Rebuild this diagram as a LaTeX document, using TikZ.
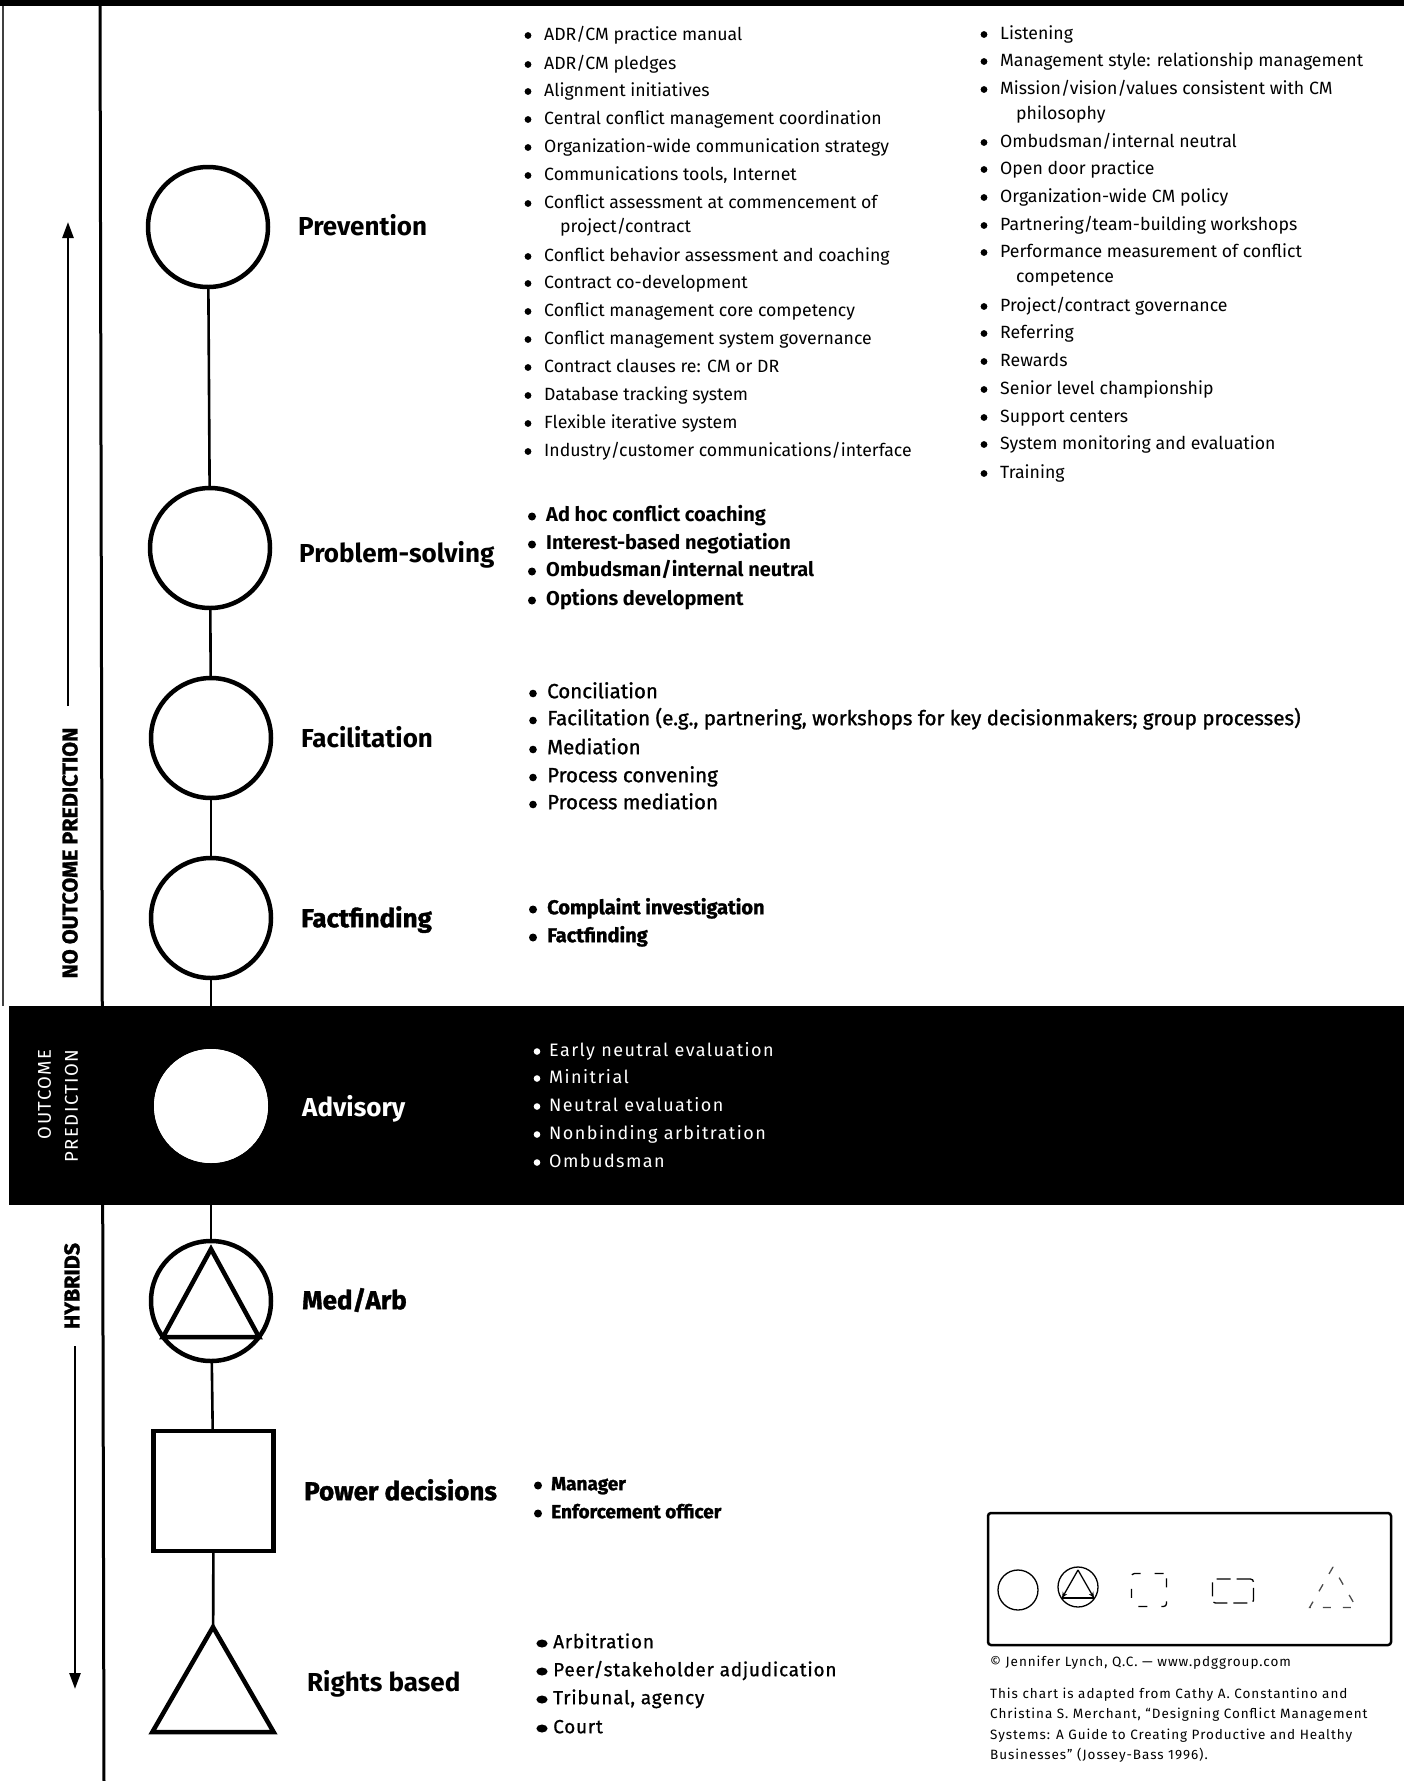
\documentclass[tikz,border=0pt]{standalone}
\usepackage{fontspec}
\setmainfont{Fira Sans}
\newfontfamily\medfont[FakeBold=1.2]{Fira Sans}
\newfontfamily\heavyfont[FakeBold=1.3]{Fira Sans}
\newfontfamily\widefont[LetterSpace=8]{Fira Sans}
\newfontfamily\trackfont[LetterSpace=4,FakeBold=0.8]{Fira Sans}
\newfontfamily\notefont[LetterSpace=7]{Fira Sans}
\usetikzlibrary{shapes.geometric,arrows.meta,calc}

\tikzset{
  outline/.style={draw, line width=4.5pt, inner sep=0pt, outer sep=0pt},
  stage/.style={circle, outline, minimum size=120pt},
  conn/.style={line width=2.6pt},
  txt/.style={anchor=west, inner sep=0pt, text height=1.2em, text depth=0.16em},
  lbl/.style={txt, font=\fontsize{26}{30}\selectfont\bfseries},
  hlbl/.style={txt, font=\fontsize{26}{30}\heavyfont\bfseries},
  lA/.style={txt, font=\fontsize{17.7}{20}\selectfont},
  lB/.style={txt, font=\fontsize{20}{24}\selectfont\bfseries},
  lBh/.style={txt, font=\fontsize{20}{24}\heavyfont\bfseries},
  lC/.style={txt, font=\fontsize{20.5}{24}\medfont},
  lD/.style={txt, text=white, font=\fontsize{18}{22}\widefont},
  lE/.style={txt, font=\fontsize{19}{23}\heavyfont\bfseries},
  lF/.style={txt, font=\fontsize{19}{23}\trackfont},
  % bullet dots of each list
  lAdot/.style={radius=3.4pt, yshift=-0.5pt},
  lBdot/.style={radius=4pt, yshift=-0.5pt},
  lBhdot/.style={radius=4pt, yshift=-0.5pt},
  lCdot/.style={radius=3.8pt, yshift=-0.5pt},
  lDdot/.style={white, radius=3.3pt, yshift=-0.5pt},
  lEdot/.style={radius=4pt, yshift=-0.5pt},
  lFdot/.style={x radius=5.6pt, y radius=4pt, yshift=-0.5pt},
  side/.style={rotate=90, inner sep=0pt, font=\fontsize{21.5}{24}\heavyfont\bfseries},
  foot/.style={txt, font=\fontsize{13.5}{16}\notefont},
  arr/.style={line width=2.6pt, -{Triangle[length=16pt,width=11pt]}},
  mini/.style={draw, line width=1.3pt, inner sep=0pt, outer sep=0pt}
}

% one bulleted entry: style, name, bullet x, text x, y, text
\newcommand\bitem[6]{%
  \node[#1] (#2) at (#4,#5) {#6};
  \fill[#1dot] (#3,#5) circle;}

\begin{document}
\begin{tikzpicture}[x=1pt,y=-1pt]
\useasboundingbox (0,0) rectangle (1404,1781);

% frame rules
\fill (0,0) rectangle (1404,6);
\draw[line width=1.2pt, black!75] (3,6) -- (3,1006);
\draw[line width=3pt] (100,0) -- (104,1781);

% outcome-prediction band
\fill (9,1006) rectangle (1404,1205);

% side captions and arrows
\node[side] (nop) at (70,853) {NO OUTCOME PREDICTION};
\coordinate (upS) at (68,706);
\coordinate (upT) at (68,222);
\draw[arr] (upS) -- (upT);
\node[rotate=90, inner sep=0pt, text=white, align=right,
      font=\fontsize{18.5}{27}\widefont] (op) at (58,1106) {OUTCOME\\PREDICTION};
\node[side] (hyb) at (72,1286) {HYBRIDS};
\coordinate (dnS) at (75,1346);
\coordinate (dnT) at (75,1689);
\draw[arr] (dnS) -- (dnT);

% process shapes
\node[stage] (pv) at (208,227) {};
\node[stage] (ps) at (210,548) {};
\node[stage] (fa) at (211,738) {};
\node[stage] (ff) at (211,918) {};
\node[circle, fill=white, inner sep=0pt, minimum size=114pt] (adv) at (211,1106) {};
\node[stage] (ma) at (211,1301) {};
\node[rectangle, outline, minimum width=120pt, minimum height=120pt] (pd) at (213.5,1491) {};
\node[regular polygon, regular polygon sides=3, outline, minimum size=140pt] (rb) at (213,1697) {};

% triangle inside the med/arb circle
\draw[line width=4.5pt, line join=miter]
  ($(ma)+(0,-52)$) -- ($(ma)+(-48,36)$) -- ($(ma)+(48,36)$) -- cycle;

% connectors
\draw[conn] (pv) -- (ps);
\draw[conn] (ps) -- (fa);
\draw[conn] (fa) -- (ff);
\draw[conn] (ff) -- (adv);
\draw[conn] (adv) -- (ma);
\draw[conn] (ma) -- (pd);
\draw[conn] (pd) -- (rb);
\node[circle, fill=white, inner sep=0pt, minimum size=114pt] (advtop) at (adv) {};

% stage labels
\node[lbl]  (Lpv) at (298,230) {Prevention};
\node[lbl]  (Lps) at (299,557) {Problem-solving};
\node[lbl]  (Lfa) at (301,742) {Facilitation};
\node[hlbl] (Lff) at (301,922) {Factfinding};
\node[lbl, text=white] (Lad) at (302,1111) {Advisory};
\node[hlbl] (Lma) at (302,1304) {Med/Arb};
\node[hlbl] (Lpd) at (304,1495) {Power decisions};
\node[lbl]  (Lrb) at (307,1686) {Rights based};

% prevention, first column
\bitem{lA}{pa1}{528}{544}{35}{ADR/CM practice manual}
\bitem{lA}{pa2}{528}{544}{64}{ADR/CM pledges}
\bitem{lA}{pa3}{528}{544}{91}{Alignment initiatives}
\bitem{lA}{pa4}{528}{544}{119}{Central conflict management coordination}
\bitem{lA}{pa5}{528}{544}{147}{Organization-wide communication strategy}
\bitem{lA}{pa6}{528}{544}{175}{Communications tools, Internet}
\bitem{lA}{pa7}{528}{544}{203}{Conflict assessment at commencement of}
\node[lA] (pa7b) at (560,227) {project/contract};
\bitem{lA}{pa8}{528}{544}{256}{Conflict behavior assessment and coaching}
\bitem{lA}{pa9}{528}{544}{283}{Contract co-development}
\bitem{lA}{pa10}{528}{544}{311}{Conflict management core competency}
\bitem{lA}{pa11}{528}{544}{339}{Conflict management system governance}
\bitem{lA}{pa12}{528}{544}{367}{Contract clauses re: CM or DR}
\bitem{lA}{pa13}{528}{544}{395}{Database tracking system}
\bitem{lA}{pa14}{528}{544}{423}{Flexible iterative system}
\bitem{lA}{pa15}{528}{544}{451}{Industry/customer communications/interface}

% prevention, second column
\bitem{lA}{pb1}{984}{1000}{34}{Listening}
\bitem{lA}{pb2}{984}{1000}{61}{Management style: relationship management}
\bitem{lA}{pb3}{984}{1000}{89}{Mission/vision/values consistent with CM}
\node[lA] (pb3b) at (1016,114) {philosophy};
\bitem{lA}{pb4}{984}{1000}{142}{Ombudsman/internal neutral}
\bitem{lA}{pb5}{984}{1000}{169}{Open door practice}
\bitem{lA}{pb6}{984}{1000}{197}{Organization-wide CM policy}
\bitem{lA}{pb7}{984}{1000}{225}{Partnering/team-building workshops}
\bitem{lA}{pb8}{984}{1000}{252}{Performance measurement of conflict}
\node[lA] (pb8b) at (1016,277) {competence};
\bitem{lA}{pb9}{984}{1000}{306}{Project/contract governance}
\bitem{lA}{pb10}{984}{1000}{333}{Referring}
\bitem{lA}{pb11}{984}{1000}{361}{Rewards}
\bitem{lA}{pb12}{984}{1000}{389}{Senior level championship}
\bitem{lA}{pb13}{984}{1000}{417}{Support centers}
\bitem{lA}{pb14}{984}{1000}{444}{System monitoring and evaluation}
\bitem{lA}{pb15}{984}{1000}{473}{Training}

% problem-solving
\bitem{lB}{ps1}{532}{546}{516}{Ad hoc conflict coaching}
\bitem{lB}{ps2}{532}{546}{544}{Interest-based negotiation}
\bitem{lB}{ps3}{532}{546}{571}{Ombudsman/internal neutral}
\bitem{lB}{ps4}{532}{546}{600}{Options development}

% facilitation
\bitem{lC}{fa1}{533}{547}{693}{Conciliation}
\bitem{lC}{fa2}{533}{547}{720}{Facilitation (e.g., partnering, workshops for key decisionmakers; group processes)}
\bitem{lC}{fa3}{533}{547}{749}{Mediation}
\bitem{lC}{fa4}{533}{547}{777}{Process convening}
\bitem{lC}{fa5}{533}{547}{804}{Process mediation}

% factfinding
\bitem{lBh}{ff1}{533}{547}{909}{Complaint investigation}
\bitem{lBh}{ff2}{533}{547}{937}{Factfinding}

% advisory
\bitem{lD}{ad1}{537}{549}{1051}{Early neutral evaluation}
\bitem{lD}{ad2}{537}{549}{1078}{Minitrial}
\bitem{lD}{ad3}{537}{549}{1106}{Neutral evaluation}
\bitem{lD}{ad4}{537}{549}{1134}{Nonbinding arbitration}
\bitem{lD}{ad5}{537}{549}{1162}{Ombudsman}

% power decisions
\bitem{lE}{pd1}{538}{551}{1485}{Manager}
\bitem{lE}{pd2}{538}{551}{1513}{Enforcement officer}

% rights based
\bitem{lF}{rb1}{542}{553}{1643}{Arbitration}
\bitem{lF}{rb2}{542}{553}{1671}{Peer/stakeholder adjudication}
\bitem{lF}{rb3}{542}{553}{1699}{Tribunal, agency}
\bitem{lF}{rb4}{542}{553}{1728}{Court}

% key box
\node[draw, line width=2.5pt, rounded corners=3pt, inner sep=0pt,
      minimum width=403pt, minimum height=132pt] (key) at (1189.5,1579) {};
\node[mini, circle, minimum size=40pt] (k1) at (1018,1590) {};
\node[mini, circle, minimum size=40pt] (k2) at (1078,1587) {};
\coordinate (k2a) at ($(k2)+(0,-17)$);
\coordinate (k2b) at ($(k2)+(-16,11)$);
\coordinate (k2c) at ($(k2)+(16,11)$);
\draw[line width=1.3pt, -{Stealth[length=6pt,width=5pt]}] (k2a) -- (k2b);
\draw[line width=1.3pt, -{Stealth[length=6pt,width=5pt]}] (k2a) -- (k2c);
\draw[line width=1.1pt] (k2b) -- (k2c);
\node[mini, dashed, dash pattern=on 9pt off 14pt, rounded corners=3pt,
      minimum width=35pt, minimum height=33pt] (k3) at (1149,1590) {};
\node[mini, dashed, dash pattern=on 14pt off 6pt, rounded corners=3pt,
      minimum width=41pt, minimum height=24pt] (k4) at (1233,1591) {};
\node[mini, black!70, dashed, dash pattern=on 8pt off 12pt, regular polygon,
      regular polygon sides=3, minimum size=54pt] (k5) at (1333,1594) {};

% credits
\node[foot] (cr)   at (990,1661) {© Jennifer Lynch, Q.C. — www.pdggroup.com};
\node[foot] (src1) at (990,1693) {This chart is adapted from Cathy A. Constantino and};
\node[foot] (src2) at (990,1713) {Christina S. Merchant, “Designing Conflict Management};
\node[foot] (src3) at (990,1734) {Systems: A Guide to Creating Productive and Healthy};
\node[foot] (src4) at (990,1754) {Businesses” (Jossey-Bass 1996).};
\end{tikzpicture}
\end{document}
